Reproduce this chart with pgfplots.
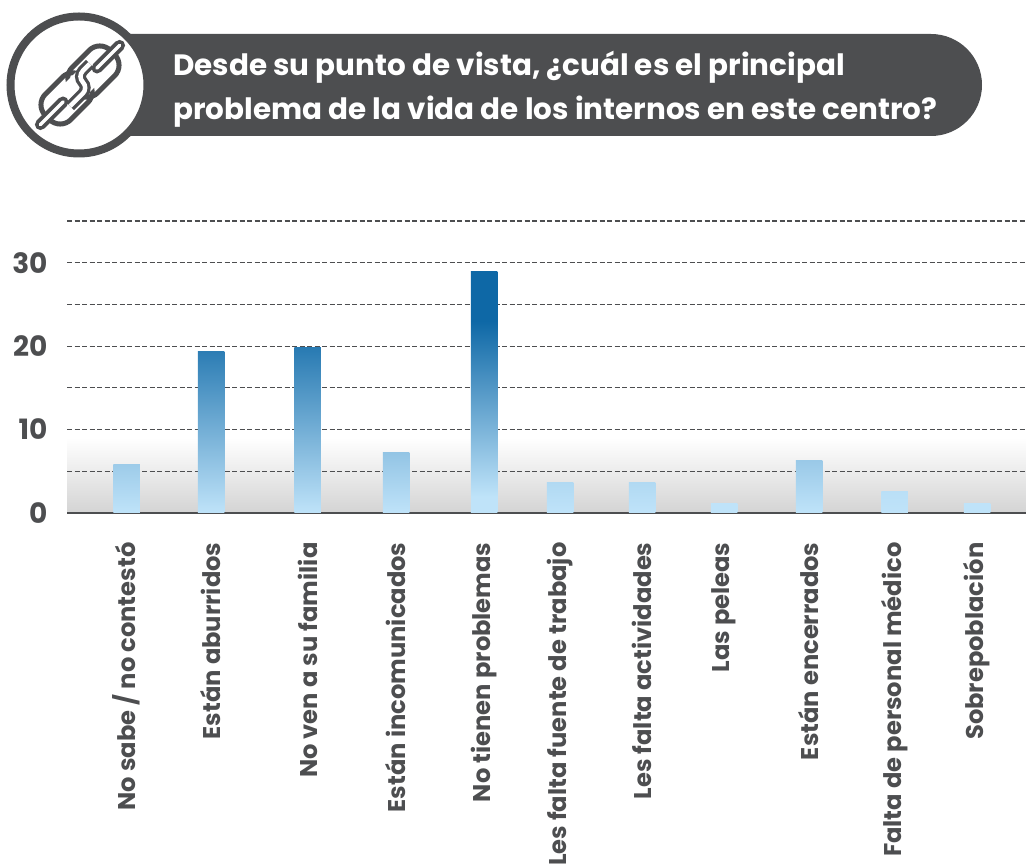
\documentclass[border=0pt]{standalone}
\usepackage{pgfplots}
\pgfplotsset{compat=1.18}
\usepackage{fontspec}
\setmainfont{Poppins}
\definecolor{dk}{HTML}{4D4E50}
\definecolor{lt}{HTML}{BFE3F9}
\definecolor{dp}{HTML}{0E68A6}
\pgfdeclareverticalshading{barhigh}{100bp}{color(0bp)=(lt);color(28.4bp)=(lt);color(64.7bp)=(dp);color(100bp)=(dp)}
\pgfplotsset{
  onebar/.style={ybar, bar width=26.5pt, bar shift=0pt, draw=none, forget plot, bottom color=lt, top color=dp!#1!lt},
}
\begin{document}
\begin{tikzpicture}[x=1pt,y=1pt]
% banner (y measured up from the bottom of the picture)
\fill[dk] (100,729) -- (100,831) -- (931,831) arc[start angle=90,end angle=-90,radius=51] -- cycle;
\draw[dk,fill=white,line width=8pt] (79,780) circle (68.5);
\begin{scope}[shift={(80,780)},rotate=45]
  \draw[dk,line width=5pt,rounded corners=15pt] (-46,-18) rectangle (8,18);
  \draw[dk,line width=5pt,rounded corners=15pt] (-8,-18) rectangle (46,18);
  \fill[white] (-16,-12) rectangle (16,12);
  \draw[dk,line width=11pt,line cap=round] (-56,0) -- (-24,0);
  \draw[white,line width=3.5pt,line cap=round] (-56,0) -- (-24,0);
  \draw[dk,line width=11pt,line cap=round] (24,0) -- (56,0);
  \draw[white,line width=3.5pt,line cap=round] (24,0) -- (56,0);
  \draw[dk,line width=11pt,rounded corners=8pt] (-22,-8) -- (4,-8) -- (4,8) -- (22,8);
  \draw[white,line width=4.5pt,rounded corners=8pt] (-22,-8) -- (4,-8) -- (4,8) -- (22,8);
\end{scope}
\node[anchor=base west,text=white,font=\fontsize{29.4}{30}\selectfont\bfseries,inner sep=0pt] at (173,789) {Desde su punto de vista, ¿cuál es el principal};
\node[anchor=base west,text=white,font=\fontsize{29.4}{30}\selectfont\bfseries,inner sep=0pt] at (173,745) {problema de la vida de los internos en este centro?};
\begin{axis}[
  at={(67pt,352pt)}, anchor=south west,
  scale only axis, width=959pt, height=292pt,
  xmin=67, xmax=1026, ymin=0, ymax=35,
  set layers,
  axis x line=bottom, axis y line*=left,
  x axis line style={dk,line width=2pt,-},
  y axis line style={draw=none},
  ytick={0,5,...,35},
  yticklabels={0,,10,,20,,30,,},
  y tick label style={font=\fontsize{28}{28}\selectfont\bfseries,text=dk},
  yticklabel shift=16pt,
  ymajorgrids,
  grid style={dk,line width=1.1pt,dash pattern=on 5pt off 2.5pt},
  xtick={126.5,211,307.5,396,484,560,642,724,809,894.5,977},
  xticklabels={No sabe / no contestó,Están aburridos,No ven a su familia,Están incomunicados,No tienen problemas,Les falta fuente de trabajo,Les falta actividades,Las peleas,Están encerrados,Falta de personal médico,Sobrepoblación},
  x tick label style={rotate=90,anchor=east,font=\fontsize{24.2}{25}\selectfont\bfseries,text=dk},
  major tick length=0pt,
  xticklabel shift=26pt,
  clip=false,
]
\addplot[on layer=axis background,draw=none,forget plot,bottom color=black!17,top color=white] coordinates {(67,0)(1026,0)(1026,9)(67,9)} \closedcycle;
\addplot[onebar=19] coordinates {(126.5,5.8)};
\addplot[onebar=83] coordinates {(211,19.4)};
\addplot[onebar=85] coordinates {(307.5,19.8)};
\addplot[onebar=25] coordinates {(396,7.3)};
\addplot[ybar,bar width=26.5pt,bar shift=0pt,draw=none,forget plot,shading=barhigh] coordinates {(484,29)};
\addplot[onebar=8] coordinates {(560,3.7)};
\addplot[onebar=8] coordinates {(642,3.7)};
\addplot[onebar=0] coordinates {(724,1.1)};
\addplot[onebar=21] coordinates {(809,6.3)};
\addplot[onebar=3] coordinates {(894.5,2.6)};
\addplot[onebar=0] coordinates {(977,1.1)};
\end{axis}
\pgfresetboundingbox
\path[use as bounding box] (0,0) rectangle (1026,865);
\end{tikzpicture}
\end{document}
